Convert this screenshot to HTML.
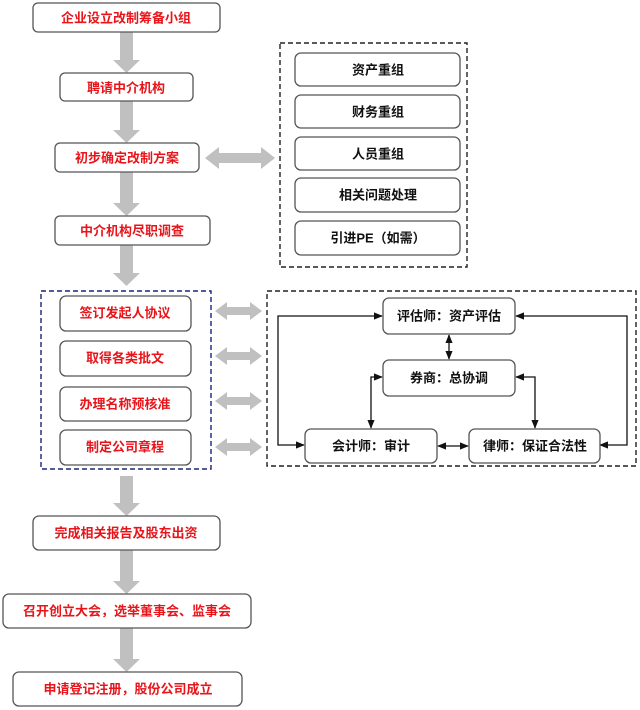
<!DOCTYPE html>
<html><head><meta charset="utf-8"><style>
html,body{margin:0;padding:0;background:#fff;}
svg{display:block;}
text{font-family:"Liberation Sans","Noto Sans CJK SC",sans-serif;font-weight:bold;font-size:13px;text-anchor:middle;dominant-baseline:central;}
.r{fill:#e8141a;}
.k{fill:#111;}
.b{fill:#fff;stroke:#555;stroke-width:1.3;}
</style></head><body>
<svg width="640" height="710" viewBox="0 0 640 710" xmlns="http://www.w3.org/2000/svg">
<defs>
<g id="va"><rect x="-6" y="0" width="12" height="1" fill="#c0c0c0"/></g>
<marker id="ah" viewBox="0 0 10 10" refX="9" refY="5" markerWidth="7" markerHeight="7" orient="auto-start-reverse"><path d="M0,1 L10,5 L0,9 z" fill="#111"/></marker>
</defs>
<!-- vertical gray arrows -->
<g fill="#c0c0c0">
<path d="M120,32 h13 v28 h7 l-13.5,13 l-13.5,-13 h7 z"/>
<path d="M120,101 h13 v29 h7 l-13.5,13 l-13.5,-13 h7 z"/>
<path d="M120,172 h13 v31 h7 l-13.5,13 l-13.5,-13 h7 z"/>
<path d="M120,245 h13 v28 h7 l-13.5,13 l-13.5,-13 h7 z"/>
<path d="M120,476 h13 v27 h7 l-13.5,13 l-13.5,-13 h7 z"/>
<path d="M120,550 h13 v31 h7 l-13.5,13 l-13.5,-13 h7 z"/>
<path d="M120,628 h13 v31 h7 l-13.5,13 l-13.5,-13 h7 z"/>
<!-- horizontal double arrows -->
<path d="M205,158 l14,-11 v6 h42 v-6 l14,11 l-14,11 v-6 h-42 v6 z"/>
<path d="M215,311 l12,-9 v5 h23 v-5 l12,9 l-12,9 v-5 h-23 v5 z"/>
<path d="M215,356 l12,-9 v5 h23 v-5 l12,9 l-12,9 v-5 h-23 v5 z"/>
<path d="M215,401 l12,-9 v5 h23 v-5 l12,9 l-12,9 v-5 h-23 v5 z"/>
<path d="M215,447 l12,-9 v5 h23 v-5 l12,9 l-12,9 v-5 h-23 v5 z"/>
</g>
<!-- left main boxes -->
<rect class="b" x="33" y="3" width="187" height="29" rx="5"/><text class="r" x="126" y="18">企业设立改制筹备小组</text>
<rect class="b" x="60" y="73" width="133" height="28" rx="5"/><text class="r" x="126" y="88">聘请中介机构</text>
<rect class="b" x="55" y="143" width="144" height="29" rx="5"/><text class="r" x="127" y="158">初步确定改制方案</text>
<rect class="b" x="55" y="216" width="155" height="29" rx="5"/><text class="r" x="132" y="231">中介机构尽职调查</text>
<!-- dashed box 1 -->
<rect x="280" y="43" width="187" height="224" fill="none" stroke="#222" stroke-width="1.4" stroke-dasharray="5,3"/>
<rect class="b" x="295" y="53" width="165" height="33" rx="6"/><text class="k" x="378" y="70">资产重组</text>
<rect class="b" x="295" y="95" width="165" height="33" rx="6"/><text class="k" x="378" y="112">财务重组</text>
<rect class="b" x="295" y="137" width="165" height="33" rx="6"/><text class="k" x="378" y="154">人员重组</text>
<rect class="b" x="295" y="178" width="165" height="34" rx="6"/><text class="k" x="378" y="195">相关问题处理</text>
<rect class="b" x="295" y="221" width="165" height="34" rx="6"/><text class="k" x="378" y="238">引进PE（如需）</text>
<!-- blue dashed box -->
<rect x="41" y="291" width="170" height="178" fill="none" stroke="#1a237e" stroke-width="1.4" stroke-dasharray="5,3"/>
<rect class="b" x="60" y="296" width="131" height="35" rx="6"/><text class="r" x="125" y="313">签订发起人协议</text>
<rect class="b" x="60" y="341" width="131" height="35" rx="6"/><text class="r" x="125" y="358">取得各类批文</text>
<rect class="b" x="60" y="387" width="131" height="34" rx="6"/><text class="r" x="125" y="404">办理名称预核准</text>
<rect class="b" x="60" y="430" width="131" height="35" rx="6"/><text class="r" x="125" y="447">制定公司章程</text>
<!-- right dashed box 2 -->
<rect x="267" y="291" width="369" height="175" fill="none" stroke="#222" stroke-width="1.4" stroke-dasharray="5,3"/>
<g stroke="#111" stroke-width="1.3" fill="none">
<path d="M382,316 H278 V445 H304" marker-start="url(#ah)" marker-end="url(#ah)"/>
<path d="M516,316 H627 V445 H600" marker-start="url(#ah)" marker-end="url(#ah)"/>
<path d="M449,335 V359" marker-start="url(#ah)" marker-end="url(#ah)"/>
<path d="M382,377 H371 V428" marker-start="url(#ah)" marker-end="url(#ah)"/>
<path d="M516,377 H535 V428" marker-start="url(#ah)" marker-end="url(#ah)"/>
<path d="M438,446 H468" marker-start="url(#ah)" marker-end="url(#ah)"/>
</g>
<rect class="b" x="383" y="298" width="132" height="36" rx="6"/><text class="k" x="449" y="316">评估师：资产评估</text>
<rect class="b" x="383" y="360" width="132" height="36" rx="6"/><text class="k" x="449" y="378">券商：总协调</text>
<rect class="b" x="305" y="429" width="132" height="34" rx="6"/><text class="k" x="371" y="446">会计师：审计</text>
<rect class="b" x="469" y="429" width="131" height="34" rx="6"/><text class="k" x="535" y="446">律师：保证合法性</text>
<!-- bottom boxes -->
<rect class="b" x="33" y="516" width="187" height="34" rx="6"/><text class="r" x="126" y="533">完成相关报告及股东出资</text>
<rect class="b" x="3" y="594" width="248" height="34" rx="6"/><text class="r" x="127" y="611">召开创立大会，选举董事会、监事会</text>
<rect class="b" x="13" y="672" width="229" height="34" rx="6"/><text class="r" x="128" y="689">申请登记注册，股份公司成立</text>
</svg>
</body></html>
